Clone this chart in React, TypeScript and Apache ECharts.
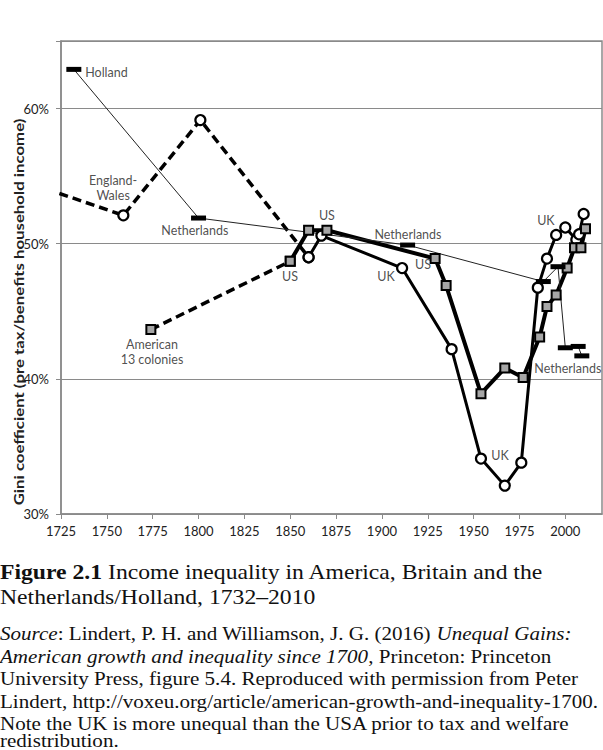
import React, { useEffect, useRef } from "react";
import * as echarts from "echarts";

// ---- data (year, Gini %) ----
const hollandNetherlands: [number, number][] = [
  [1732, 62.9], [1800, 51.9], [1914, 49.9], [1988, 47.2], [1996, 48.3],
  [2000, 42.3], [2007, 42.4], [2009, 41.7],
];
const englandWales: [number, number][] = [
  [1688, 55.4], [1759, 52.1], [1801, 59.15], [1860, 49.0],
];
const uk: [number, number][] = [
  [1860, 49.0], [1867, 50.6], [1911, 48.2], [1938, 42.2], [1954, 34.1],
  [1967, 32.1], [1976, 33.8], [1985, 46.75], [1990, 48.9], [1995, 50.65],
  [2000, 51.2], [2006, 50.3], [2007.5, 50.7], [2010, 52.2],
];
const americanColonies: [number, number][] = [
  [1774, 43.65], [1850, 48.7],
];
const us: [number, number][] = [
  [1850, 48.7], [1860, 51.0], [1870, 51.0], [1929, 48.9], [1935, 46.9],
  [1954, 38.9], [1967, 40.8], [1977, 40.1], [1986, 43.1], [1990, 45.35],
  [1995, 46.2], [2001, 48.2], [2005, 49.7], [2008.5, 49.7], [2011, 51.1],
];
const seriesLabels: [number, number, string][] = [
  [1749.8, 62.7, "Holland"],
  [1753.4, 54.1, "England-\nWales"],
  [1798, 51.0, "Netherlands"],
  [1849.9, 47.6, "US"],
  [1870, 52.1, "US"],
  [1914.2, 50.7, "Netherlands"],
  [1922.4, 48.45, "US"],
  [1902.2, 47.6, "UK"],
  [1989.4, 51.7, "UK"],
  [2001.4, 40.8, "Netherlands"],
  [1964.4, 34.35, "UK"],
  [1774.6, 42.0, "American\n13 colonies"],
];
const xTicks = { min: 1725, max: 2020, interval: 25 };
const yTicks = { min: 30, max: 65, interval: 10 };
const yTitle = "Gini coefficient (pre tax/benefits household income)";
const captionTitle = ["{b|Figure 2.1} Income inequality in America, Britain and the", "Netherlands/Holland, 1732–2010"];
const captionSource = [
  "{i|Source}: Lindert, P. H. and Williamson, J. G. (2016) {i|Unequal Gains:}",
  "{i|American growth and inequality since 1700}, Princeton: Princeton",
  "University Press, figure 5.4. Reproduced with permission from Peter",
  "Lindert, http://voxeu.org/article/american-growth-and-inequality-1700.",
  "Note the UK is more unequal than the USA prior to tax and welfare",
  "redistribution.",
];

const SANS = "Lato, 'Open Sans', sans-serif";
const SERIF = "'Liberation Serif', 'DejaVu Serif', serif";

export default function App() {
  const ref = useRef<HTMLDivElement>(null);
  useEffect(() => {
    document.body.style.margin = "0";
    if (!ref.current) return;
    const chart = echarts.init(ref.current, undefined, { renderer: "svg" });
    const circleItem = { color: "#fff", borderColor: "#000", borderWidth: 2.2 };
    const squareItem = { color: "#a6a6a6", borderColor: "#000", borderWidth: 2 };
    const graphic: any[] = [
      {
        type: "text", x: 19, y: 312, rotation: Math.PI / 2, scaleX: 1.2,
        style: { text: yTitle, font: `bold 14px ${SANS}`, fill: "#222", align: "center", verticalAlign: "middle" },
      },
    ];
    captionTitle.forEach((t, i) => {
      graphic.push({
        type: "text", x: 0, y: 572 + i * 25, scaleX: 1.155,
        style: {
          text: t, font: `20.5px ${SERIF}`, fill: "#111", align: "left", verticalAlign: "middle",
          rich: { b: { font: `bold 20.5px ${SERIF}`, fill: "#111" } },
        },
      });
    });
    captionSource.forEach((t, i) => {
      const y = i < captionSource.length - 1 ? 634 + i * 22.6 : 741;
      graphic.push({
        type: "text", x: 0, y, scaleX: 1.17,
        style: {
          text: t, font: `18px ${SERIF}`, fill: "#111", align: "left", verticalAlign: "middle",
          rich: { i: { font: `italic 18px ${SERIF}`, fill: "#111" } },
        },
      });
    });

    chart.setOption({
      animation: false,
      grid: { left: 61, right: 1, top: 41, bottom: 236, show: true, borderColor: "#8a8a8a", borderWidth: 1.5, backgroundColor: "transparent" },
      xAxis: {
        type: "value", min: xTicks.min, max: xTicks.max, interval: xTicks.interval,
        axisLine: { show: true, lineStyle: { color: "#8a8a8a", width: 1.5 } },
        axisTick: { show: true, length: 5, lineStyle: { color: "#8a8a8a" } },
        axisLabel: {
          color: "#222", fontFamily: SANS, fontSize: 13, margin: 10, showMaxLabel: false,
          formatter: (v: number) => ((v - xTicks.min) % xTicks.interval === 0 ? String(v) : ""),
        },
        splitLine: { show: false },
      },
      yAxis: {
        type: "value", min: yTicks.min, max: yTicks.max, interval: yTicks.interval,
        axisLine: { show: true, lineStyle: { color: "#8a8a8a", width: 1.5 } },
        axisTick: { show: true, length: 5, lineStyle: { color: "#8a8a8a" } },
        axisLabel: { color: "#222", fontFamily: SANS, fontSize: 13, margin: 12, formatter: (v: number) => (v % 10 === 0 ? v + "%" : "") },
        splitLine: { show: true, lineStyle: { color: "#8a8a8a", width: 1.2 } },
      },
      graphic,
      series: [
        {
          name: "England-Wales", type: "line", data: englandWales, clip: true,
          symbol: "circle", symbolSize: 10, itemStyle: circleItem,
          lineStyle: { color: "#000", width: 3.5, type: [9, 5] },
        },
        {
          name: "American 13 colonies", type: "line", data: americanColonies,
          symbol: "rect", symbolSize: 9, itemStyle: squareItem,
          lineStyle: { color: "#000", width: 3.5, type: [9, 5] },
        },
        {
          name: "UK", type: "line", data: uk,
          symbol: "circle", symbolSize: 10, itemStyle: circleItem,
          lineStyle: { color: "#000", width: 3 },
        },
        {
          name: "US", type: "line", data: us,
          symbol: "rect", symbolSize: 9, itemStyle: squareItem,
          lineStyle: { color: "#000", width: 4 },
        },
        {
          name: "Holland/Netherlands", type: "line", data: hollandNetherlands,
          symbol: "rect", symbolSize: [15, 5], itemStyle: { color: "#000" },
          lineStyle: { color: "#222", width: 1 },
        },
        {
          name: "labels", type: "scatter", data: seriesLabels, symbolSize: 1,
          itemStyle: { color: "rgba(0,0,0,0)" }, silent: true,
          label: {
            show: true, position: "inside", color: "#222", fontFamily: SANS, fontSize: 12.5, lineHeight: 15,
            formatter: (p: any) => p.data[2],
          },
        },
      ],
    });
    return () => chart.dispose();
  }, []);
  return <div ref={ref} style={{ width: 603, height: 750 }} />;
}
